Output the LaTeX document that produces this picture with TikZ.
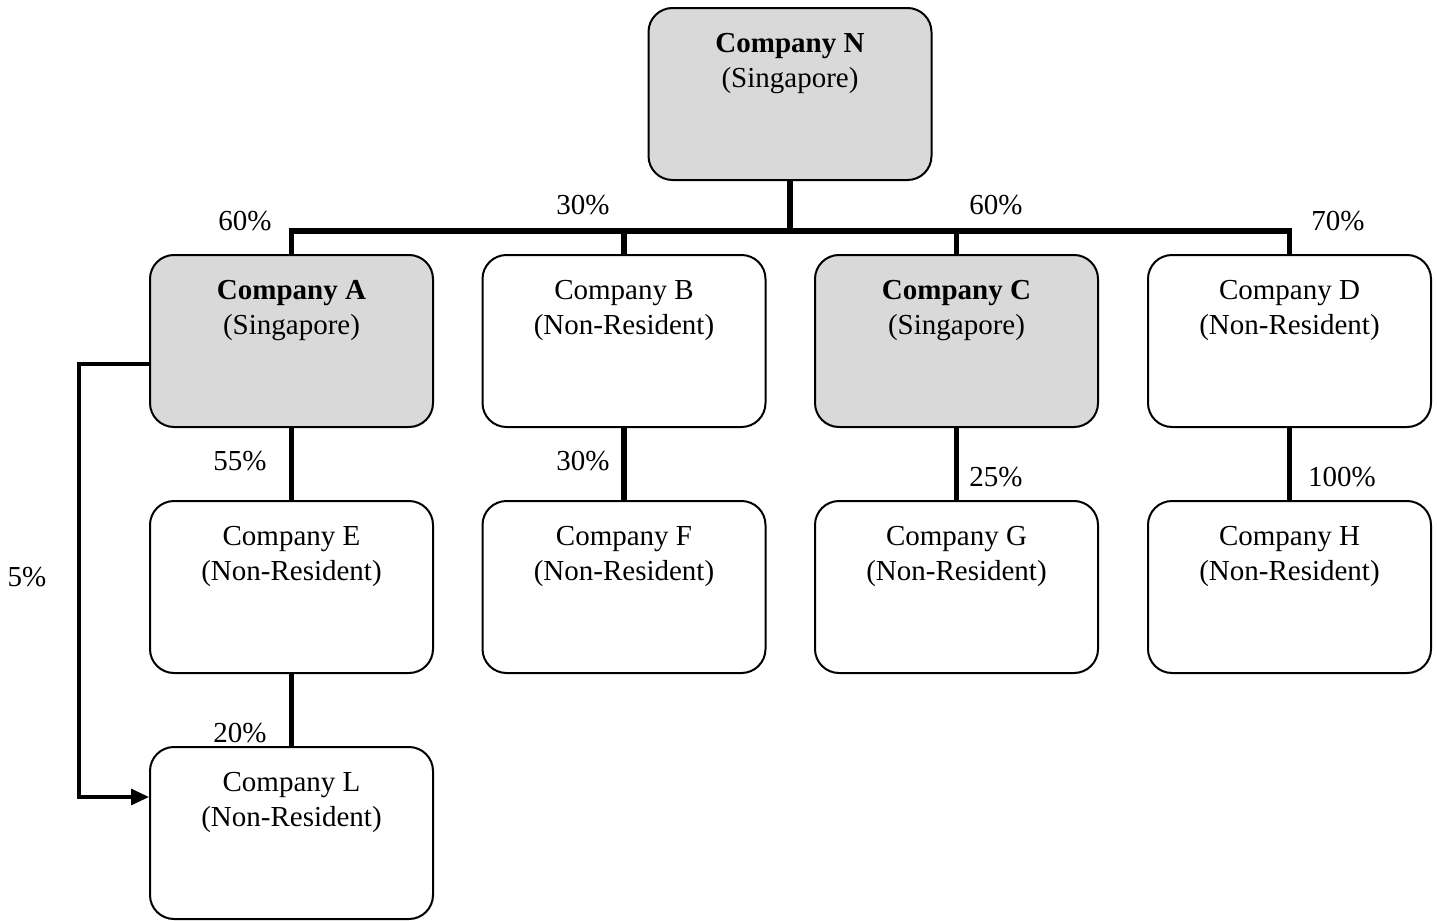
\documentclass[tikz,border=0pt]{standalone}
\usepackage{fontspec}
\setmainfont{Liberation Serif}
\usetikzlibrary{arrows.meta}
\newcommand{\boxtext}[2]{\parbox[c][86pt][t]{140pt}{\centering\fontsize{14.5}{17.5}\selectfont\rule{0pt}{22pt}#1\\#2}}
\tikzset{
  company/.style={draw=black, line width=1pt, rounded corners=12pt, minimum width=141.5pt, minimum height=86pt, inner sep=0pt, fill=white},
  sgp/.style={company, fill=boxgray},
  owner/.style={line width=2.6pt},
  arrowline/.style={line width=1.6pt, -{Triangle[length=9pt,width=8pt]}},
  pct/.style={font=\fontsize{14.5}{17}\selectfont, inner sep=0pt, anchor=center}
}
\definecolor{boxgray}{HTML}{D9D9D9}
\begin{document}
\begin{tikzpicture}[x=0.5pt,y=-0.5pt]
\useasboundingbox (0,0) rectangle (1437,921);
% boxes
\node[sgp] (N) at (790,94) {\boxtext{\textbf{Company N}}{(Singapore)}};
\node[sgp] (A) at (291.5,341) {\boxtext{\textbf{Company A}}{(Singapore)}};
\node[company] (B) at (624,341) {\boxtext{Company B}{(Non-Resident)}};
\node[sgp] (C) at (956.5,341) {\boxtext{\textbf{Company C}}{(Singapore)}};
\node[company] (D) at (1289.5,341) {\boxtext{Company D}{(Non-Resident)}};
\node[company] (E) at (291.5,587) {\boxtext{Company E}{(Non-Resident)}};
\node[company] (F) at (624,587) {\boxtext{Company F}{(Non-Resident)}};
\node[company] (G) at (956.5,587) {\boxtext{Company G}{(Non-Resident)}};
\node[company] (H) at (1289.5,587) {\boxtext{Company H}{(Non-Resident)}};
\node[company] (L) at (291.5,833) {\boxtext{Company L}{(Non-Resident)}};
% bus
\coordinate (bus) at (790,231);
\draw[owner] (N.south) -- (N.south |- bus);
\draw[owner] (A.north) -- (A.north |- bus) -- (D.north |- bus) -- (D.north);
\draw[owner] (B.north) -- (B.north |- bus);
\draw[owner] (C.north) -- (C.north |- bus);
% second level
\draw[owner] (A.south) -- (E.north);
\draw[owner] (B.south) -- (F.north);
\draw[owner] (C.south) -- (G.north);
\draw[owner] (D.south) -- (H.north);
\draw[owner] (E.south) -- (L.north);
% arrow A -> L
\draw[arrowline] ([yshift=-11.5pt]A.west) -- ++(-70,0) |- ([yshift=18pt]L.west);
% percentages
\node[pct] (pA) at (245,221) {60\%};
\node[pct] (pB) at (583,205) {30\%};
\node[pct] (pC) at (996,205) {60\%};
\node[pct] (pD) at (1338,221) {70\%};
\node[pct] (pE) at (240,461) {55\%};
\node[pct] (pF) at (583,461) {30\%};
\node[pct] (pG) at (996,477) {25\%};
\node[pct] (pH) at (1342,477) {100\%};
\node[pct] (pL) at (240,733) {20\%};
\node[pct] (p5) at (27,577) {5\%};
\end{tikzpicture}
\end{document}
